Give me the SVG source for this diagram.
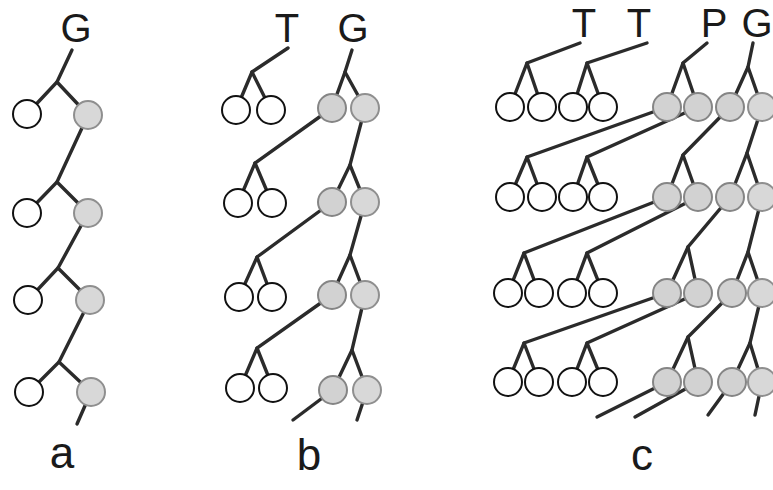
<svg xmlns="http://www.w3.org/2000/svg" width="773" height="490" viewBox="0 0 773 490">
<style>
.ln{stroke:#2b2b2b;stroke-width:3.4;fill:none;stroke-linecap:round}
.w{fill:#fff;stroke:#111;stroke-width:2}
.g{fill:#d8d8d8;stroke:#8f8f8f;stroke-width:2}
.s{fill:#d2d2d2;stroke:#858585;stroke-width:2}
.lbl{font-family:"Liberation Sans",Arial,sans-serif;font-size:40px;fill:#1a1a1a;text-anchor:middle}
.pl{font-family:"Liberation Sans",Arial,sans-serif;font-size:44px;fill:#1a1a1a;text-anchor:middle}
</style>
<rect width="773" height="490" fill="#fff"/>
<g id="connectors">
<!-- panel a -->
<polyline class="ln" points="72,50 57,82 27,114"/>
<line class="ln" x1="57" y1="82" x2="88" y2="115"/>
<polyline class="ln" points="88,115 57,182 27,213"/>
<line class="ln" x1="57" y1="182" x2="88" y2="213"/>
<polyline class="ln" points="88,213 58,268 28,300"/>
<line class="ln" x1="58" y1="268" x2="90" y2="300"/>
<polyline class="ln" points="90,300 59,362 29,392"/>
<line class="ln" x1="59" y1="362" x2="91" y2="392"/>
<line class="ln" x1="91" y1="392" x2="77" y2="424"/>
<!-- panel b -->
<polyline class="ln" points="288,48 252,72 236,110"/>
<line class="ln" x1="252" y1="72" x2="271" y2="110"/>
<polyline class="ln" points="352,50 345,72 332,108"/>
<line class="ln" x1="345" y1="72" x2="365" y2="108"/>
<polyline class="ln" points="332,108 255,163 238,203"/>
<line class="ln" x1="255" y1="163" x2="272" y2="203"/>
<polyline class="ln" points="365,108 350,165 332,202"/>
<line class="ln" x1="350" y1="165" x2="365" y2="202"/>
<polyline class="ln" points="332,202 257,257 239,297"/>
<line class="ln" x1="257" y1="257" x2="272" y2="297"/>
<polyline class="ln" points="365,202 350,255 332,295"/>
<line class="ln" x1="350" y1="255" x2="365" y2="295"/>
<polyline class="ln" points="332,295 257,348 240,388"/>
<line class="ln" x1="257" y1="348" x2="273" y2="388"/>
<polyline class="ln" points="365,295 352,350 333,390"/>
<line class="ln" x1="352" y1="350" x2="367" y2="390"/>
<line class="ln" x1="333" y1="390" x2="293" y2="420"/>
<line class="ln" x1="367" y1="390" x2="357" y2="420"/>
<!-- panel c row 1 -->
<polyline class="ln" points="580,43 527,63 510,107"/>
<line class="ln" x1="527" y1="63" x2="542" y2="107"/>
<polyline class="ln" points="647,43 587,63 573,107"/>
<line class="ln" x1="587" y1="63" x2="603" y2="107"/>
<polyline class="ln" points="707,43 683,63 667,107"/>
<line class="ln" x1="683" y1="63" x2="698" y2="107"/>
<polyline class="ln" points="753,43 748,67 730,107"/>
<line class="ln" x1="748" y1="67" x2="762" y2="107"/>
<!-- panel c row 2 -->
<polyline class="ln" points="667,107 527,157 510,197"/>
<line class="ln" x1="527" y1="157" x2="542" y2="197"/>
<polyline class="ln" points="698,107 587,157 573,197"/>
<line class="ln" x1="587" y1="157" x2="603" y2="197"/>
<polyline class="ln" points="730,107 683,155 667,197"/>
<line class="ln" x1="683" y1="155" x2="698" y2="197"/>
<polyline class="ln" points="762,107 747,153 730,197"/>
<line class="ln" x1="747" y1="153" x2="762" y2="197"/>
<!-- panel c row 3 -->
<polyline class="ln" points="667,197 524,253 508,293"/>
<line class="ln" x1="524" y1="253" x2="539" y2="293"/>
<polyline class="ln" points="698,197 587,253 572,293"/>
<line class="ln" x1="587" y1="253" x2="603" y2="293"/>
<polyline class="ln" points="730,197 688,247 667,293"/>
<line class="ln" x1="688" y1="247" x2="698" y2="293"/>
<polyline class="ln" points="762,197 748,252 732,293"/>
<line class="ln" x1="748" y1="252" x2="762" y2="293"/>
<!-- panel c row 4 -->
<polyline class="ln" points="667,293 524,343 508,382"/>
<line class="ln" x1="524" y1="343" x2="539" y2="382"/>
<polyline class="ln" points="698,293 587,343 572,382"/>
<line class="ln" x1="587" y1="343" x2="603" y2="382"/>
<polyline class="ln" points="732,293 688,337 667,382"/>
<line class="ln" x1="688" y1="337" x2="698" y2="382"/>
<polyline class="ln" points="762,293 750,343 732,382"/>
<line class="ln" x1="750" y1="343" x2="762" y2="382"/>
<!-- panel c tails -->
<line class="ln" x1="667" y1="382" x2="597" y2="417"/>
<line class="ln" x1="698" y1="382" x2="635" y2="417"/>
<line class="ln" x1="732" y1="382" x2="708" y2="415"/>
<line class="ln" x1="762" y1="382" x2="755" y2="415"/>
</g>
<!-- panel a nodes -->
<g id="a-G"><text class="lbl" x="76" y="42">G</text></g>
<g id="a-L1"><circle class="w" cx="27" cy="114" r="14"/></g>
<g id="a-R1"><circle class="g" cx="88" cy="115" r="14"/></g>
<g id="a-L2"><circle class="w" cx="27" cy="213" r="14"/></g>
<g id="a-R2"><circle class="g" cx="88" cy="213" r="14"/></g>
<g id="a-L3"><circle class="w" cx="28" cy="300" r="14"/></g>
<g id="a-R3"><circle class="g" cx="90" cy="300" r="14"/></g>
<g id="a-L4"><circle class="w" cx="29" cy="392" r="14"/></g>
<g id="a-R4"><circle class="g" cx="91" cy="392" r="14"/></g>
<g id="label-a"><text class="pl" x="62" y="468">a</text></g>
<!-- panel b nodes -->
<g id="b-T"><text class="lbl" x="287" y="42">T</text></g>
<g id="b-G"><text class="lbl" x="353" y="42">G</text></g>
<g id="b-1a"><circle class="w" cx="236" cy="110" r="14"/></g>
<g id="b-1b"><circle class="w" cx="271" cy="110" r="14"/></g>
<g id="b-1c"><circle class="s" cx="332" cy="108" r="14"/></g>
<g id="b-1d"><circle class="g" cx="365" cy="108" r="14"/></g>
<g id="b-2a"><circle class="w" cx="238" cy="203" r="14"/></g>
<g id="b-2b"><circle class="w" cx="272" cy="203" r="14"/></g>
<g id="b-2c"><circle class="s" cx="332" cy="202" r="14"/></g>
<g id="b-2d"><circle class="g" cx="365" cy="202" r="14"/></g>
<g id="b-3a"><circle class="w" cx="239" cy="297" r="14"/></g>
<g id="b-3b"><circle class="w" cx="272" cy="297" r="14"/></g>
<g id="b-3c"><circle class="s" cx="332" cy="295" r="14"/></g>
<g id="b-3d"><circle class="g" cx="365" cy="295" r="14"/></g>
<g id="b-4a"><circle class="w" cx="240" cy="388" r="14"/></g>
<g id="b-4b"><circle class="w" cx="273" cy="388" r="14"/></g>
<g id="b-4c"><circle class="s" cx="333" cy="390" r="14"/></g>
<g id="b-4d"><circle class="g" cx="367" cy="390" r="14"/></g>
<g id="label-b"><text class="pl" x="309" y="470">b</text></g>
<!-- panel c nodes -->
<g id="c-T1"><text class="lbl" x="584" y="37">T</text></g>
<g id="c-T2"><text class="lbl" x="639" y="37">T</text></g>
<g id="c-P"><text class="lbl" x="714" y="37">P</text></g>
<g id="c-G"><text class="lbl" x="757" y="37">G</text></g>
<g id="c-1a"><circle class="w" cx="510" cy="107" r="14"/></g>
<g id="c-1b"><circle class="w" cx="542" cy="107" r="14"/></g>
<g id="c-1c"><circle class="w" cx="573" cy="107" r="14"/></g>
<g id="c-1d"><circle class="w" cx="603" cy="107" r="14"/></g>
<g id="c-1e"><circle class="s" cx="667" cy="107" r="14"/></g>
<g id="c-1f"><circle class="s" cx="698" cy="107" r="14"/></g>
<g id="c-1g"><circle class="s" cx="730" cy="107" r="14"/></g>
<g id="c-1h"><circle class="g" cx="762" cy="107" r="14"/></g>
<g id="c-2a"><circle class="w" cx="510" cy="197" r="14"/></g>
<g id="c-2b"><circle class="w" cx="542" cy="197" r="14"/></g>
<g id="c-2c"><circle class="w" cx="573" cy="197" r="14"/></g>
<g id="c-2d"><circle class="w" cx="603" cy="197" r="14"/></g>
<g id="c-2e"><circle class="s" cx="667" cy="197" r="14"/></g>
<g id="c-2f"><circle class="s" cx="698" cy="197" r="14"/></g>
<g id="c-2g"><circle class="s" cx="730" cy="197" r="14"/></g>
<g id="c-2h"><circle class="g" cx="762" cy="197" r="14"/></g>
<g id="c-3a"><circle class="w" cx="508" cy="293" r="14"/></g>
<g id="c-3b"><circle class="w" cx="539" cy="293" r="14"/></g>
<g id="c-3c"><circle class="w" cx="572" cy="293" r="14"/></g>
<g id="c-3d"><circle class="w" cx="603" cy="293" r="14"/></g>
<g id="c-3e"><circle class="s" cx="667" cy="293" r="14"/></g>
<g id="c-3f"><circle class="s" cx="698" cy="293" r="14"/></g>
<g id="c-3g"><circle class="s" cx="732" cy="293" r="14"/></g>
<g id="c-3h"><circle class="g" cx="762" cy="293" r="14"/></g>
<g id="c-4a"><circle class="w" cx="508" cy="382" r="14"/></g>
<g id="c-4b"><circle class="w" cx="539" cy="382" r="14"/></g>
<g id="c-4c"><circle class="w" cx="572" cy="382" r="14"/></g>
<g id="c-4d"><circle class="w" cx="603" cy="382" r="14"/></g>
<g id="c-4e"><circle class="s" cx="667" cy="382" r="14"/></g>
<g id="c-4f"><circle class="s" cx="698" cy="382" r="14"/></g>
<g id="c-4g"><circle class="s" cx="732" cy="382" r="14"/></g>
<g id="c-4h"><circle class="g" cx="762" cy="382" r="14"/></g>
<g id="label-c"><text class="pl" x="642" y="470">c</text></g>
</svg>
